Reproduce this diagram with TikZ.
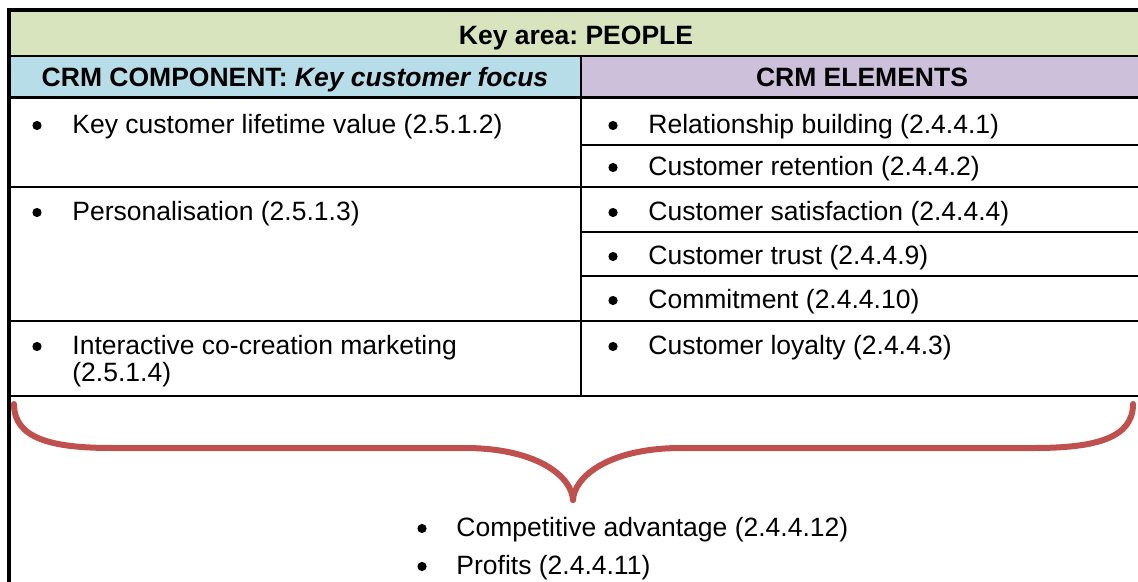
\documentclass[tikz,border=0pt]{standalone}
\usepackage{fontspec}
\setmainfont{Liberation Sans}
\frenchspacing
\definecolor{hdrgreen}{HTML}{D7E4BD}
\definecolor{hdrblue}{HTML}{B7DDE8}
\definecolor{hdrpurple}{HTML}{CCC0DA}
\definecolor{bracered}{HTML}{C0504D}
\begin{document}
\begin{tikzpicture}[x=0.5pt,y=-0.5pt,
  txt/.style={anchor=base west,inner sep=0pt,font=\fontsize{13.25}{15}\selectfont},
  bul/.style={circle,fill=black,inner sep=0pt,minimum size=4.6pt},
  hdr/.style={anchor=base,inner sep=0pt,font=\fontsize{13.25}{15}\selectfont\bfseries},
  thick border/.style={line width=2pt},
  rowline/.style={line width=1.4pt},
  subline/.style={line width=1pt},
  brace/.style={draw=bracered,line width=3pt,line cap=round,line join=round}]
\useasboundingbox (0,0) rectangle (1138,582);
% header fills
\fill[hdrgreen] (9,10.5) rectangle (1140,56);
\fill[hdrblue] (9,56) rectangle (581,97.5);
\fill[hdrpurple] (581,56) rectangle (1140,97.5);
% grid
\draw[rowline] (9,56) -- (1140,56);
\draw[rowline] (9,97.5) -- (1140,97.5);
\draw[rowline] (581,56) -- (581,396);
\draw[subline] (581,145) -- (1140,145);
\draw[rowline] (9,187) -- (1140,187);
\draw[subline] (581,232) -- (1140,232);
\draw[subline] (581,276) -- (1140,276);
\draw[rowline] (9,321) -- (1140,321);
\draw[rowline] (9,396) -- (1140,396);
\draw[thick border] (7,10.5) -- (1140,10.5);
\draw[thick border] (9,8.5) -- (9,584);
% headers
\node[hdr] (keyarea) at (576,44.5) {Key area: PEOPLE};
\node[hdr] (comp) at (295,86.5) {CRM COMPONENT: \textit{Key customer focus}};
\node[hdr] (elem) at (862,86.5) {CRM ELEMENTS};
% left column
\node[bul] (lb1) at (37,125.5) {};
\node[txt] (l1) at (72,133.5) {Key customer lifetime value (2.5.1.2)};
\node[bul] (lb2) at (37,212.5) {};
\node[txt] (l2) at (72,220.5) {Personalisation (2.5.1.3)};
\node[bul] (lb3) at (37,346.5) {};
\node[txt] (l3) at (72,354.5) {Interactive co-creation marketing};
\node[txt] (l3b) at (72,381.5) {(2.5.1.4)};
% right column
\node[bul] (rb1) at (613,125.5) {};
\node[txt] (r1) at (648,133.5) {Relationship building (2.4.4.1)};
\node[bul] (rb2) at (613,167.5) {};
\node[txt] (r2) at (648,175.5) {Customer retention (2.4.4.2)};
\node[bul] (rb3) at (613,212.5) {};
\node[txt] (r3) at (648,220.5) {Customer satisfaction (2.4.4.4)};
\node[bul] (rb4) at (613,256.5) {};
\node[txt] (r4) at (648,264.5) {Customer trust (2.4.4.9)};
\node[bul] (rb5) at (613,300.5) {};
\node[txt] (r5) at (648,308.5) {Commitment (2.4.4.10)};
\node[bul] (rb6) at (613,346.5) {};
\node[txt] (r6) at (648,354.5) {Customer loyalty (2.4.4.3)};
% brace
\coordinate (bl) at (14,404);
\coordinate (tip) at (573,500);
\coordinate (br) at (1133,404);
\draw[brace] (bl) .. controls (14,438) and (50,448) .. (112,448) -- (468,448)
  .. controls (540,449) and (572,478) .. (tip);
\draw[brace] (tip) .. controls (574,478) and (606,449) .. (678,448) -- (1034,448)
  .. controls (1096,448) and (1133,438) .. (br);
% outcomes
\node[bul] (ob1) at (422,528.5) {};
\node[txt] (o1) at (456,536.5) {Competitive advantage (2.4.4.12)};
\node[bul] (ob2) at (422,566.5) {};
\node[txt] (o2) at (456,574.5) {Profits (2.4.4.11)};
\end{tikzpicture}
\end{document}
